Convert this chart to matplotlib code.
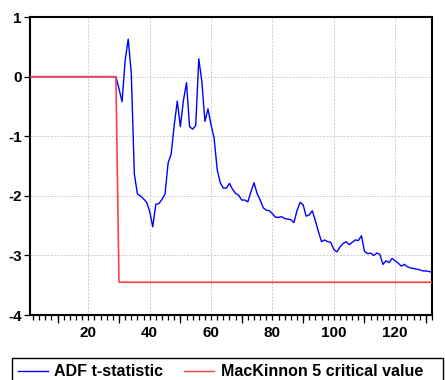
import matplotlib
matplotlib.use('Agg')
import matplotlib.pyplot as plt
import matplotlib.transforms as mtransforms
from matplotlib.lines import Line2D
from matplotlib.patches import Rectangle
import numpy as np

plt.rcParams['font.family'] = ['Liberation Sans', 'DejaVu Sans']

# 数据
obs = np.arange(1, 133)
adf_tail = [0, -0.2, -0.42, 0.27, 0.63, 0.07, -1.63, -1.97, -2.0, -2.05,
            -2.11, -2.26, -2.52, -2.14, -2.13, -2.06, -1.97, -1.45, -1.3, -0.81,
            -0.41, -0.84, -0.4, -0.1, -0.84, -0.88, -0.82, 0.3, -0.08, -0.75,
            -0.54, -0.81, -1.03, -1.56, -1.78, -1.87, -1.87, -1.79, -1.89, -1.96,
            -1.99, -2.07, -2.07, -2.1, -1.93, -1.78, -1.96, -2.07, -2.2, -2.24,
            -2.25, -2.3, -2.36, -2.36, -2.35, -2.38, -2.39, -2.4, -2.45, -2.25,
            -2.11, -2.15, -2.34, -2.32, -2.25, -2.42, -2.6, -2.77, -2.74, -2.77,
            -2.78, -2.9, -2.94, -2.86, -2.8, -2.77, -2.82, -2.78, -2.74, -2.75,
            -2.67, -2.93, -2.97, -2.96, -3.0, -2.96, -2.98, -3.15, -3.09, -3.12,
            -3.05, -3.09, -3.13, -3.18, -3.15, -3.19, -3.21, -3.22, -3.23, -3.24,
            -3.26, -3.26, -3.27, -3.28]
adf_stat = [0.0] * 28 + adf_tail          # obs 1..28 are zero, 29..132 follow
crit_level = -3.45
crit_start = 30
crit_value = [0.0 if t < crit_start else crit_level for t in obs]

x_labels = [20, 40, 60, 80, 100, 120]
y_ticks = [-4, -3, -2, -1, 0, 1]

fig = plt.figure(figsize=(4.45, 3.8), dpi=100)
ax = fig.add_axes([0.0674, 0.171, 0.9034, 0.784])

ax.plot(obs, adf_stat, color='#0000ff', lw=1.0, zorder=3)
ax.plot(obs, crit_value, color='#ff4040', lw=1.2, zorder=4)

ax.set_xlim(1, 132)
ax.set_ylim(-4, 1)
ax.set_xticks(x_labels)
ax.set_xticks(np.arange(2, 133, 2), minor=True)
ax.set_yticks(y_ticks)
ax.set_yticklabels([str(v) for v in y_ticks])

ax.grid(True, which='major', color='#cccccc', linestyle=(0, (2, 1.5)), lw=0.7)
ax.tick_params(axis='x', which='both', direction='out', length=3.5, width=0.9, pad=4.5)
ax.tick_params(axis='y', which='major', direction='out', length=4, width=0.9, pad=2)
for lab in ax.get_xticklabels() + ax.get_yticklabels():
    lab.set_fontsize(11)
    lab.set_fontweight('bold')

# longer ticks at 10, 30, 50 ...
trans = mtransforms.blended_transform_factory(ax.transData, ax.transAxes)
long_ticks = np.arange(10, 131, 20)
ax.vlines(long_ticks, -0.028, 0, transform=trans, color='black', lw=0.9, clip_on=False)

for s in ax.spines.values():
    s.set_linewidth(1.5)
    s.set_color('black')

# legend box
fig.patches.append(Rectangle((12 / 445, -0.05), 431 / 445, 0.05 + 22 / 380,
                             transform=fig.transFigure, fill=False,
                             edgecolor='black', lw=1.0))
ly = 1 - 371 / 380
fig.add_artist(Line2D([18 / 445, 48 / 445], [ly, ly], color='#0000ff', lw=1.0,
                      transform=fig.transFigure))
fig.text(54 / 445, ly, 'ADF t-statistic', fontsize=11.5, fontweight='bold',
         va='center', ha='left')
fig.add_artist(Line2D([184 / 445, 214 / 445], [ly, ly], color='#ff4040', lw=1.0,
                      transform=fig.transFigure))
fig.text(221 / 445, ly, 'MacKinnon 5 critical value', fontsize=11.5, fontweight='bold',
         va='center', ha='left')

fig.savefig('out.png', dpi=100)
